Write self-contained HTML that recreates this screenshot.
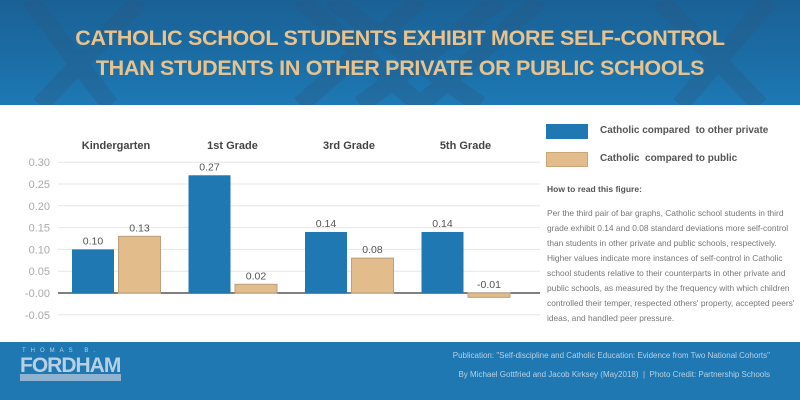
<!DOCTYPE html>
<html><head><meta charset="utf-8">
<style>
body{margin:0;width:800px;height:400px;overflow:hidden;background:#fff;font-family:"Liberation Sans",sans-serif;position:relative}
#hdr{position:absolute;left:0;top:0;width:800px;height:105px;background:linear-gradient(#1a6196,#1b6ea6 60%,#1e79b4);overflow:hidden}
.title{position:absolute;left:0;width:800px;text-align:center;color:#e9c38e;font-weight:bold;font-size:21.5px;letter-spacing:-0.3px;white-space:nowrap}
#ftr{position:absolute;left:0;top:342px;width:800px;height:58px;background:#1f78b2}
.leg{position:absolute;left:600px;font-size:10px;color:#555;font-weight:bold}
.sw{position:absolute;left:546px;width:42px;height:15px}
#para{position:absolute;left:547px;top:206px;width:250px;font-size:8.4px;line-height:15px;color:#777}
</style></head><body>
<div id="hdr">
<svg width="800" height="105" style="position:absolute;left:0;top:0">
<g stroke="#2a5a85" stroke-width="18" opacity="0.35">
<line x1="300" y1="0" x2="420" y2="105"/><line x1="420" y1="0" x2="300" y2="105"/>
<line x1="330" y1="0" x2="480" y2="105"/><line x1="500" y1="0" x2="360" y2="105"/>
<line x1="540" y1="0" x2="420" y2="105"/><line x1="30" y1="0" x2="110" y2="105"/>
<line x1="140" y1="0" x2="40" y2="105"/><line x1="660" y1="0" x2="760" y2="105"/><line x1="770" y1="0" x2="680" y2="105"/>
</g></svg>
<div class="title" style="top:26px">CATHOLIC SCHOOL STUDENTS EXHIBIT MORE SELF-CONTROL</div>
<div class="title" style="top:56px">THAN STUDENTS IN OTHER PRIVATE OR PUBLIC SCHOOLS</div>
</div>

<svg id="chart" width="540" height="240" style="position:absolute;left:0;top:105px"></svg>

<div class="sw" style="top:124px;background:#1f78b2"></div>
<div class="leg" style="top:125px">Catholic compared&nbsp; to other private</div>
<div class="sw" style="top:152px;background:#e3bc8b;border:1px solid #c9a57a;box-sizing:border-box"></div>
<div class="leg" style="top:153px">Catholic&nbsp; compared to public</div>
<div style="position:absolute;left:547px;top:184px;font-size:8.5px;font-weight:bold;color:#555">How to read this figure:</div>
<div id="para">Per the third pair of bar graphs, Catholic school students in third grade exhibit 0.14 and 0.08 standard deviations more self-control than students in other private and public schools, respectively. Higher values indicate more instances of self-control in Catholic school students relative to their counterparts in other private and public schools, as measured by the frequency with which children controlled their temper, respected others' property, accepted peers' ideas, and handled peer pressure.</div>

<div id="ftr">
<div style="position:absolute;left:22px;top:6px;color:#b8d0e4;font-size:6px;letter-spacing:5px">THOMAS B.</div>
<div style="position:absolute;left:20px;top:12px;color:#b8d0e4;font-size:21px;font-weight:bold;letter-spacing:-1px">FORDHAM</div>
<div style="position:absolute;left:20px;top:32px;width:101px;height:7px;background:#8fb3d0"></div>
<div style="position:absolute;right:30px;top:4px;color:#b8d0e4;font-size:8px;text-align:right;line-height:19px">Publication: "Self-discipline and Catholic Education: Evidence from Two National Cohorts"<br>By Michael Gottfried and Jacob Kirksey (May2018) &nbsp;|&nbsp; Photo Credit: Partnership Schools</div>
</div>

<script>
const categories = ["Kindergarten","1st Grade","3rd Grade","5th Grade"];
const privateVals = [0.10,0.27,0.14,0.14];
const publicVals = [0.13,0.02,0.08,-0.01];
const privateLabels = ["0.10","0.27","0.14","0.14"];
const publicLabels = ["0.13","0.02","0.08","-0.01"];
const ticks = [0.30,0.25,0.20,0.15,0.10,0.05,0.00,-0.05];
const tickLabels = ["0.30","0.25","0.20","0.15","0.10","0.05","-0.00","-0.05"];

const svg = document.getElementById('chart');
const NS = "http://www.w3.org/2000/svg";
const top0 = 105;
const y = v => (293 - top0) - v / 0.05 * 21.8;
const gx = i => 72 + i * 116.5;
function mk(tag, attrs, txt){const e=document.createElementNS(NS,tag);for(const k in attrs)e.setAttribute(k,attrs[k]);if(txt!==undefined)e.textContent=txt;svg.appendChild(e);return e;}
ticks.forEach((t,i)=>{
  const l = mk('line',{x1:58,x2:540,y1:y(t),y2:y(t),stroke:t===0?'#333':'#e6e6e6','stroke-width':t===0?1.3:1});
  
  
  const tx = mk('text',{x:50,y:y(t)+4,'text-anchor':'end','font-size':11,fill:'#aaa'},tickLabels[i]);
  
  
});
categories.forEach((c,i)=>{
  const x = gx(i);
  const h = mk('text',{x:x+44,y:145-top0+4,'text-anchor':'middle','font-size':11,'font-weight':'bold',fill:'#444'},c);
  
  
  [[privateVals[i],privateLabels[i],'#1f78b2','none',x],[publicVals[i],publicLabels[i],'#e3bc8b','#bba07c',x+46.5]].forEach((d,j)=>{
    const v=d[0], y0=y(0), yv=y(v);
    const r = mk('rect',{x:d[4],y:Math.min(y0,yv),width:42,height:Math.abs(yv-y0),fill:d[2],stroke:d[3]});
    
    
    const lt = mk('text',{x:d[4]+21,y:Math.min(y0,yv)-5,'text-anchor':'middle','font-size':10.5,fill:'#555'},d[1]);
    
    
  });
});
</script>
</body></html>
